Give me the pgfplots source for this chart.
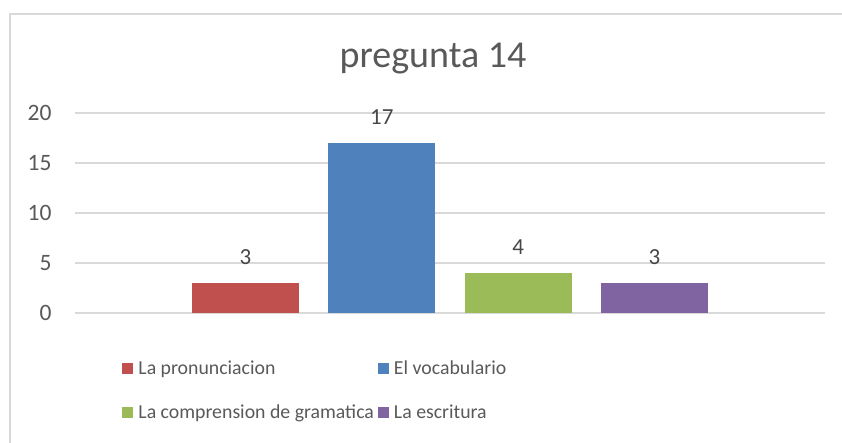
\documentclass[border=0pt]{standalone}
\usepackage{pgfplots}
\pgfplotsset{compat=1.18}
\usepackage{fontspec}
\setmainfont{Carlito}
\definecolor{cRed}{HTML}{C0504D}
\definecolor{cBlue}{HTML}{4F81BD}
\definecolor{cGreen}{HTML}{9BBB59}
\definecolor{cPurple}{HTML}{8064A2}
\definecolor{txt}{HTML}{595959}
\definecolor{gridc}{HTML}{D9D9D9}
\begin{document}
\begin{tikzpicture}[x=1pt,y=1pt]
\useasboundingbox (0,0) rectangle (842,443);
\draw[gridc, line width=1.2pt] (10,-5) -- (10,429) -- (850,429);
\node[txt, font=\fontsize{38}{40}\selectfont] at (433,384) {pregunta 14};
\begin{axis}[
    at={(75pt,130pt)}, anchor=south west,
    scale only axis,
    width=750pt, height=200pt,
    ybar, bar shift=0pt, bar width=0.785,
    xmin=-1.25, xmax=4.25,
    ymin=0, ymax=20,
    ytick={0,5,10,15,20},
    xtick=\empty,
    axis line style={draw=none},
    major tick length=0pt,
    ymajorgrids,
    grid style={gridc, line width=1.2pt},
    yticklabel style={txt, font=\fontsize{23.5}{25}\selectfont, xshift=-20pt},
    /pgf/number format/assume math mode=true,
    nodes near coords,
    every node near coord/.append style={font=\fontsize{23}{25}\selectfont, color=txt!80!black, yshift=15pt},
    legend columns=2,
    legend cell align=left,
    legend style={at={(0.063,-0.23)}, anchor=north west, draw=none, fill=none,
        inner sep=0pt, font=\fontsize{19.8}{22}\selectfont, text=txt,
        nodes={inner sep=2pt},
        /tikz/every odd column/.append style={column sep=3pt},
        /tikz/every even column/.append style={column sep=2pt},
        row sep=24pt},
    legend image code/.code={\fill[#1] (0pt,-5.5pt) rectangle (11pt,5.5pt);},
]
\addplot[fill=cRed, draw=none] coordinates {(0,3)};
\addplot[fill=cBlue, draw=none] coordinates {(1,17)};
\addplot[fill=cGreen, draw=none] coordinates {(2,4)};
\addplot[fill=cPurple, draw=none] coordinates {(3,3)};
\legend{La pronunciacion, El vocabulario, La comprension de gramatica, La escritura}
\end{axis}
\end{tikzpicture}
\end{document}
